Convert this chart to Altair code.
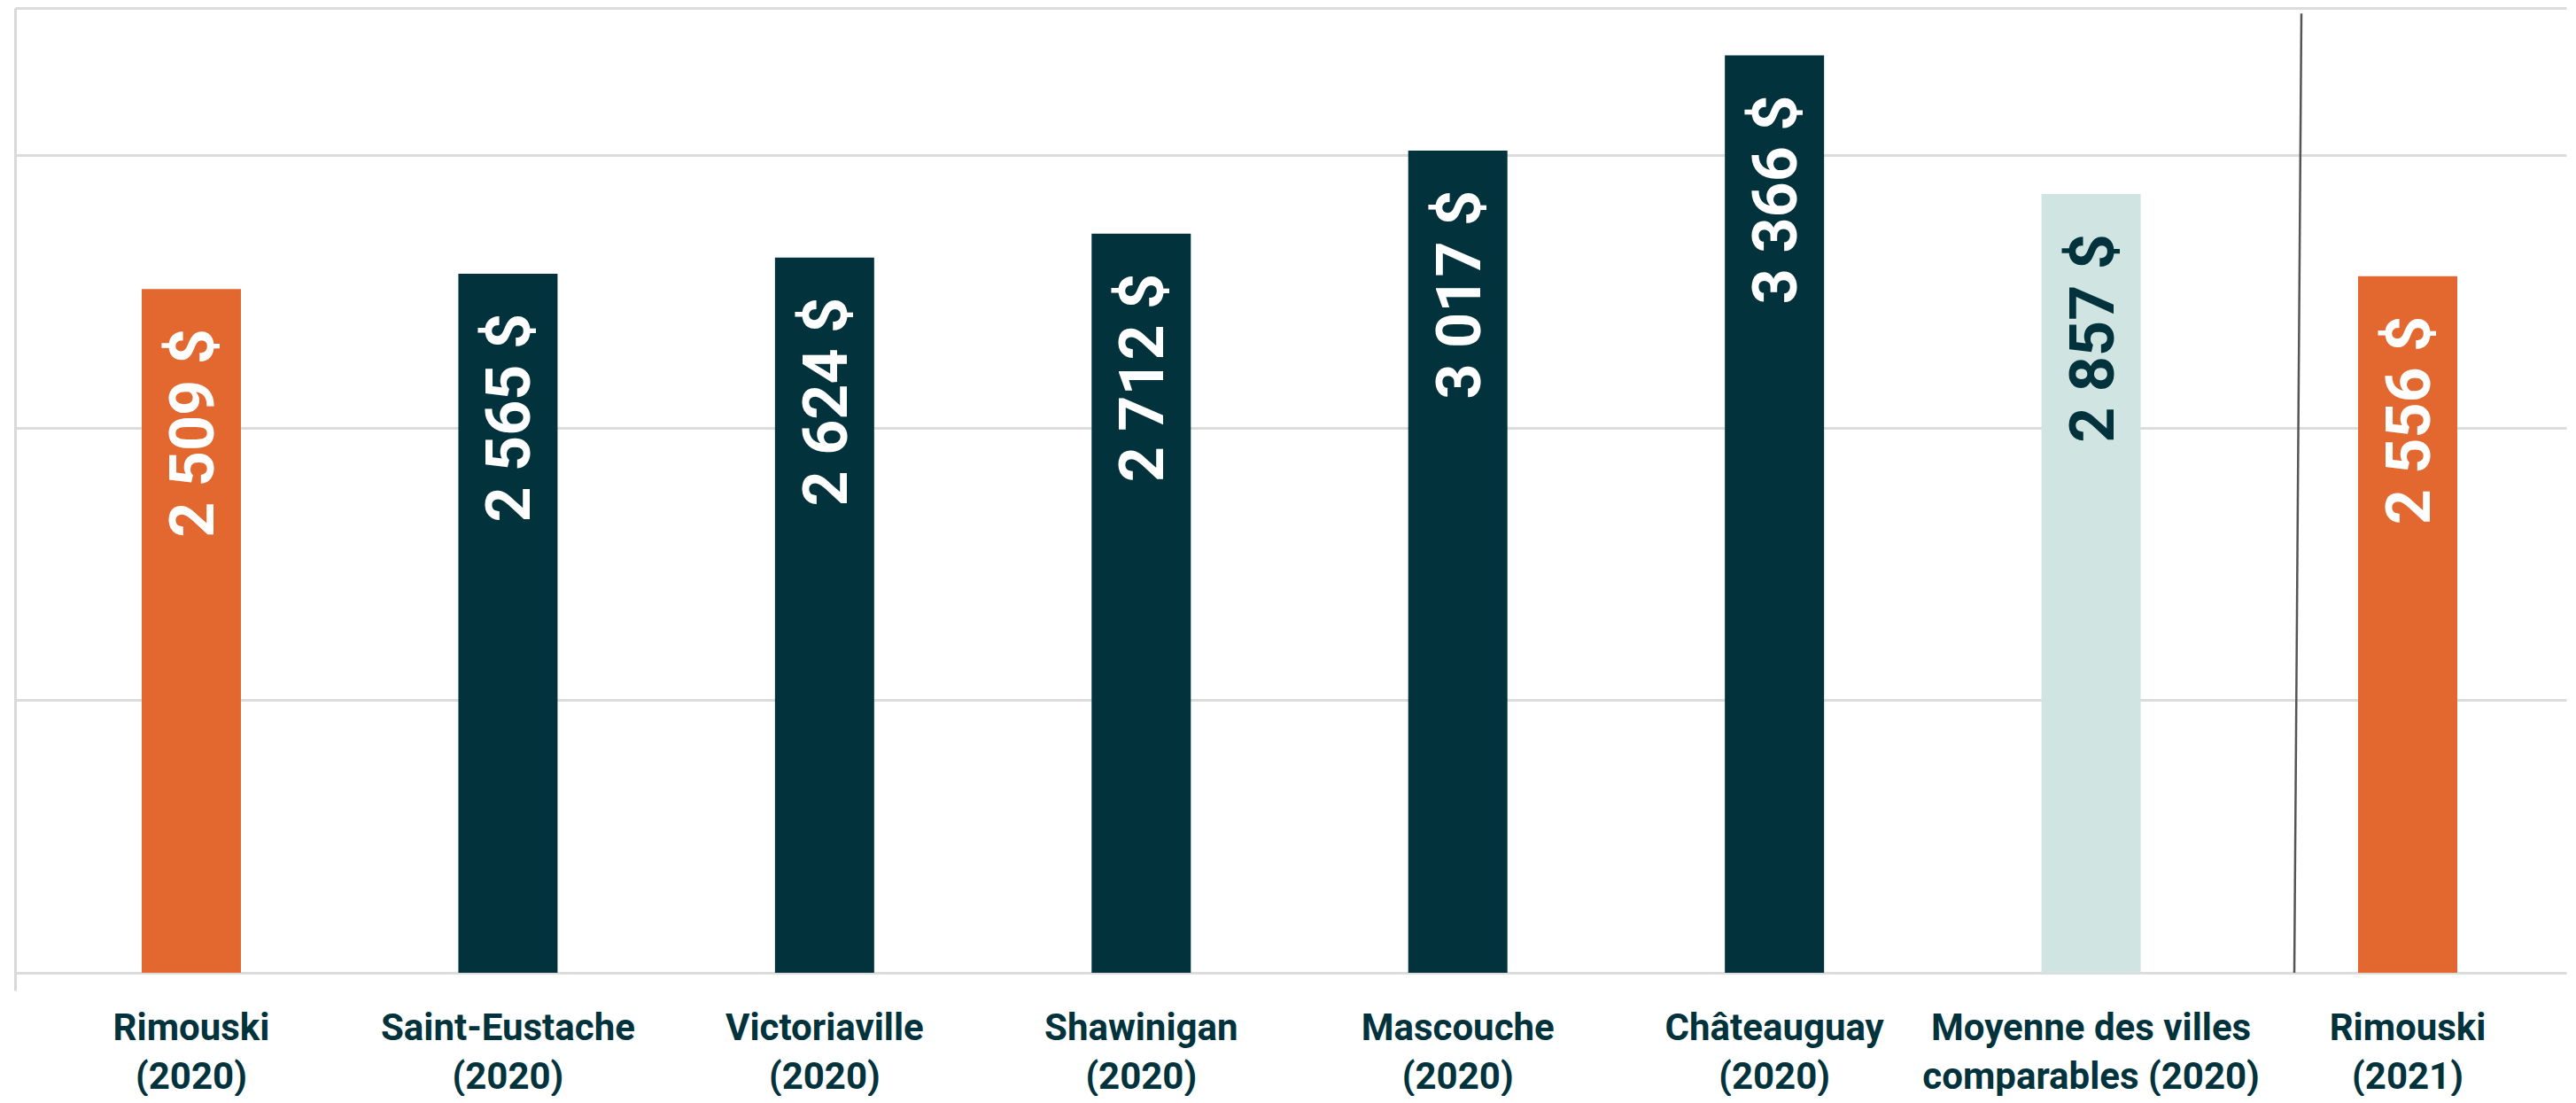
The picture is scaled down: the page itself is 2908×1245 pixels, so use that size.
import altair as alt
import pandas as pd

# ---- data ----
cities = [
    "Rimouski|(2020)",
    "Saint-Eustache|(2020)",
    "Victoriaville|(2020)",
    "Shawinigan|(2020)",
    "Mascouche|(2020)",
    "Châteauguay|(2020)",
    "Moyenne des villes|comparables (2020)",
    "Rimouski|(2021)",
]
values = [2509, 2565, 2624, 2712, 3017, 3366, 2857, 2556]
groups = ["Rimouski", "Comparable", "Comparable", "Comparable",
          "Comparable", "Comparable", "Moyenne", "Rimouski"]
group_names = ["Rimouski", "Comparable", "Moyenne"]
group_colors = ["#E36830", "#02333D", "#D0E5E2"]
grid_values = [0, 1000, 2000, 3000, 3540]

DARK = "#02333D"

df = pd.DataFrame({"city": cities, "value": values, "group": groups})
df["label"] = [f"{v:,}".replace(",", " ") + " $" for v in values]

sep = pd.DataFrame({"city": ["Rimouski|(2021)"], "top": [3520], "bottom": [0]})

x_scale = alt.Scale(paddingInner=0.6867, paddingOuter=0.3721, align=0.5376)
x_axis = alt.Axis(
    title=None, domain=False, ticks=False, tickSize=0, labelAngle=0,
    labelFont="Roboto", labelFontWeight="bold", labelFontSize=42,
    labelColor=DARK, labelLineHeight=55, labelPadding=22,
    labelExpr="split(datum.label, '|')", labelOverlap=False,
    labelBound=False, labelLimit=0, grid=False,
)
y_scale = alt.Scale(domain=[-65, 3540], nice=False, zero=False)
y_axis = alt.Axis(
    title=None, labels=False, ticks=False, domain=True,
    domainColor="#d9d9d9", domainWidth=3, grid=True,
    gridColor="#dcdcdc", gridWidth=3, values=grid_values,
)

base = alt.Chart(df)

bars = base.mark_bar().encode(
    x=alt.X("city:N", sort=cities, scale=x_scale, axis=x_axis),
    y=alt.Y("value:Q", scale=y_scale, axis=y_axis),
    y2=alt.datum(0),
    color=alt.Color("group:N", scale=alt.Scale(domain=group_names, range=group_colors), legend=None),
)

texts = base.mark_text(
    angle=270, align="right", baseline="middle", dx=-45, dy=4,
    font="Roboto", fontWeight="bold", fontSize=70,
).encode(
    x=alt.X("city:N", sort=cities),
    y=alt.Y("value:Q"),
    text="label:N",
    color=alt.condition(alt.datum.group == "Moyenne", alt.value(DARK), alt.value("white")),
)

separator = alt.Chart(sep).mark_rule(
    color="#555555", strokeWidth=2.5, xOffset=-120, x2Offset=-128,
).encode(
    x=alt.X("city:N", sort=cities),
    x2=alt.X2("city"),
    y=alt.Y("top:Q"),
    y2=alt.Y2("bottom"),
)

chart = alt.layer(bars, texts, separator).properties(
    width=2880,
    height=1109,
    autosize=alt.AutoSizeParams(type="none"),
    padding={"left": 9, "top": 1, "right": 2, "bottom": 119},
    background="white",
).configure_view(stroke=None)

chart.save("out.html", embed_options={"renderer": "svg", "actions": False})
